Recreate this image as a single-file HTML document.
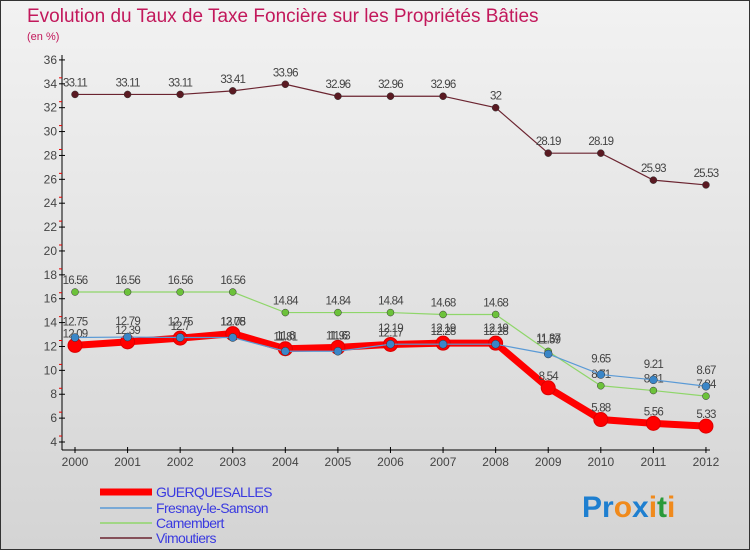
<!DOCTYPE html>
<html><head><meta charset="utf-8"><style>
body{margin:0;width:750px;height:550px;overflow:hidden;font-family:"Liberation Sans",sans-serif}
</style></head><body>
<svg id="c" width="750" height="550" xmlns="http://www.w3.org/2000/svg">
<defs><linearGradient id="bg" x1="0" y1="0" x2="0" y2="1"><stop offset="0" stop-color="#f2f2f2"/><stop offset="1" stop-color="#d4d4d4"/></linearGradient></defs>
<rect x="0.5" y="0.5" width="749" height="549" fill="url(#bg)" stroke="#333"/>
<text x="27" y="22" font-size="19" fill="#c2185b">Evolution du Taux de Taxe Foncière sur les Propriétés Bâties</text>
<text x="27" y="40" font-size="11" fill="#c2185b">(en %)</text>
<g id="axes"></g><g id="series"></g><g id="legend"></g>
<text x="582" y="517" font-size="30" font-weight="bold"><tspan fill="#1e7fd0">Pr</tspan><tspan fill="#f08a1c">o</tspan><tspan fill="#1e7fd0">x</tspan><tspan fill="#f08a1c">i</tspan><tspan fill="#2a9a3a">t</tspan><tspan fill="#f08a1c">i</tspan></text>
</svg>
<script>
const years=["2000","2001","2002","2003","2004","2005","2006","2007","2008","2009","2010","2011","2012"];
const yTicks=[4,6,8,10,12,14,16,18,20,22,24,26,28,30,32,34,36];
const guerq=[12.09,12.39,12.7,13.08,11.81,11.93,12.17,12.28,12.28,8.54,5.88,5.56,5.33];
const fresnay=[12.75,12.79,12.75,12.75,11.6,11.6,12.19,12.19,12.19,11.37,9.65,9.21,8.67];
const camembert=[16.56,16.56,16.56,16.56,14.84,14.84,14.84,14.68,14.68,11.59,8.71,8.31,7.84];
const vimoutiers=[33.11,33.11,33.11,33.41,33.96,32.96,32.96,32.96,32,28.19,28.19,25.93,25.53];
const NS="http://www.w3.org/2000/svg";
const X=i=>75+i*52.58, Y=v=>442-(v-4)*11.94;
function mk(t,a,p){const e=document.createElementNS(NS,t);for(const k in a)e.setAttribute(k,a[k]);p.appendChild(e);return e;}
const ax=document.getElementById('axes');
let l=mk('line',{x1:62,y1:55,x2:62,y2:450,stroke:'#000'},ax);


l=mk('line',{x1:62,y1:450,x2:710,y2:450,stroke:'#000'},ax);


yTicks.forEach(v=>{const y=Y(v);
 mk('line',{x1:59,y1:y,x2:65,y2:y,stroke:'#000'},ax);
 if(v<36)mk('line',{x1:59,y1:y-5.97,x2:62,y2:y-5.97,stroke:'#e00'},ax);
 const t=mk('text',{x:57,y:y+4,'font-size':12,'text-anchor':'end',fill:'#444'},ax);t.textContent=v;
 
 });
years.forEach((yr,i)=>{const x=X(i);
 mk('line',{x1:x,y1:447,x2:x,y2:453,stroke:'#000'},ax);
 const t=mk('text',{x:x,y:466,'font-size':12,'text-anchor':'middle',fill:'#444'},ax);t.textContent=yr;
 
 });
const sg=document.getElementById('series');
const S=[[vimoutiers,'#6b2430',1.2,3.5,'#5a1a22','vimoutiers',-8],[camembert,'#8fd66a',1.2,3.5,'#6cc23a','camembert',-8],[fresnay,'#5a9ad6',1.2,4,'#3a86c8','fresnay',-12],[guerq,'#f00',7,7,'#f00','guerquesalles',-8]];
S.slice().reverse();
[S[0],S[1],S[3],S[2]].forEach(([d,c,w,r,fc,n,off])=>{
 const g=mk('g',{},sg);
 
 
 const p=mk('polyline',{points:d.map((v,i)=>X(i)+','+Y(v)).join(' '),fill:'none',stroke:c,'stroke-width':w},g);
 d.forEach((v,i)=>{const ci=mk('circle',{cx:X(i),cy:Y(v),r:r,fill:fc,stroke:n=='guerquesalles'?'#d00':'#333','stroke-width':n=='guerquesalles'?1:0.5},g);
  
  
  const t=mk('text',{x:X(i),y:Y(v)+off,'font-size':11.5,'text-anchor':'middle',fill:'#444','letter-spacing':'-0.8'},g);t.textContent=v;
  
  });
});
const lg=document.getElementById('legend');
[['GUERQUESALLES','#f00',7,492],['Fresnay-le-Samson','#5a9ad6',1.5,508],['Camembert','#8fd66a',1.5,523],['Vimoutiers','#6b2430',1.5,538]].forEach(([n,c,w,y])=>{
 const g=mk('g',{},lg);
 
 
 mk('line',{x1:100,y1:y,x2:152,y2:y,stroke:c,'stroke-width':w},g);
 const t=mk('text',{x:156,y:y+5,'font-size':14,fill:'#3a3ae0','letter-spacing':'-0.6'},g);t.textContent=n;
});
</script>
</body></html>
